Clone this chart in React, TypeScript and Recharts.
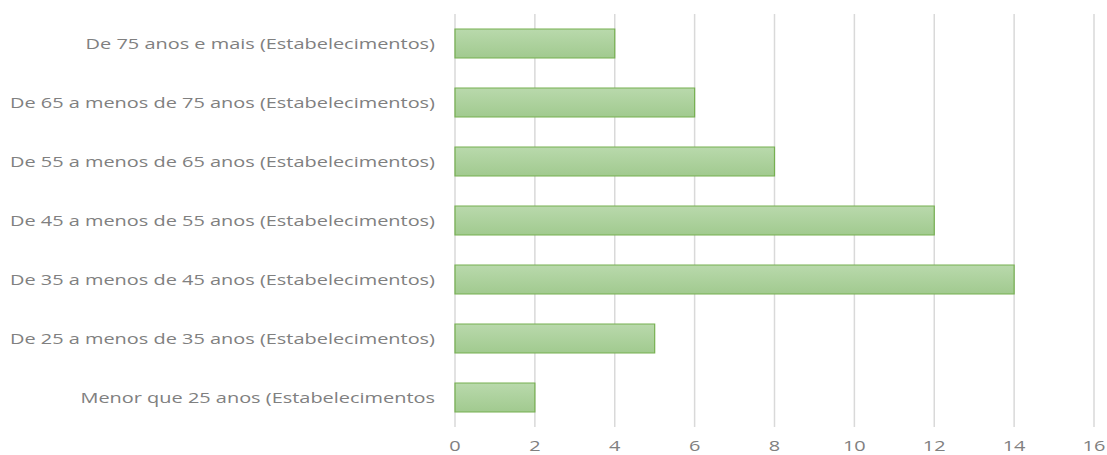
import React from 'react';
import { BarChart, Bar, XAxis, YAxis, CartesianGrid } from 'recharts';

const CATEGORIES = [
  'De 75 anos e mais (Estabelecimentos)',
  'De 65 a menos de 75 anos (Estabelecimentos)',
  'De 55 a menos de 65 anos (Estabelecimentos)',
  'De 45 a menos de 55 anos (Estabelecimentos)',
  'De 35 a menos de 45 anos (Estabelecimentos)',
  'De 25 a menos de 35 anos (Estabelecimentos)',
  'Menor que 25 anos (Estabelecimentos',
];
const VALUES = [4, 6, 8, 12, 14, 5, 2];
const X_TICKS = [0, 2, 4, 6, 8, 10, 12, 14, 16];

const data = CATEGORIES.map((label, i) => ({ label, value: VALUES[i] }));

const TEXT = '#808080';
const FONT = '"Open Sans", sans-serif';
// the source text is rendered horizontally stretched
const STRETCH = 1.33;

function CategoryTick({ x, y, payload }: any) {
  return (
    <text
      transform={`translate(${x},${y}) scale(${STRETCH},1)`}
      dy={5}
      textAnchor="end"
      fill={TEXT}
      fontFamily={FONT}
      fontSize={15}
    >
      {payload.value}
    </text>
  );
}

function ValueTick({ x, y, payload }: any) {
  return (
    <text
      transform={`translate(${x},${y}) scale(${STRETCH},1)`}
      dy={16}
      textAnchor="middle"
      fill={TEXT}
      fontFamily={FONT}
      fontSize={15}
    >
      {payload.value}
    </text>
  );
}

export default function App() {
  return (
    <div style={{ position: 'absolute', left: 0, top: 0, background: '#fff' }}>
      <BarChart
        width={1107}
        height={455}
        data={data}
        layout="vertical"
        margin={{ top: 14, right: 13, bottom: 0, left: 0 }}
      >
        <defs>
          <linearGradient id="barFill" x1="0" y1="0" x2="0" y2="1">
            <stop offset="0%" stopColor="#b9d9ac" />
            <stop offset="100%" stopColor="#a1ca8f" />
          </linearGradient>
        </defs>
        <CartesianGrid horizontal={false} stroke="#d9d9d9" strokeWidth={1.5} />
        <XAxis
          type="number"
          domain={[0, 16]}
          ticks={X_TICKS}
          axisLine={false}
          tickLine={false}
          height={28}
          tick={<ValueTick />}
          interval={0}
        />
        <YAxis
          type="category"
          dataKey="label"
          width={455}
          axisLine={false}
          tickLine={false}
          tickMargin={14}
          tick={<CategoryTick />}
          interval={0}
        />
        <Bar dataKey="value" fill="url(#barFill)" stroke="#76b050" strokeWidth={1.2} barSize={29} isAnimationActive={false} />
      </BarChart>
    </div>
  );
}
